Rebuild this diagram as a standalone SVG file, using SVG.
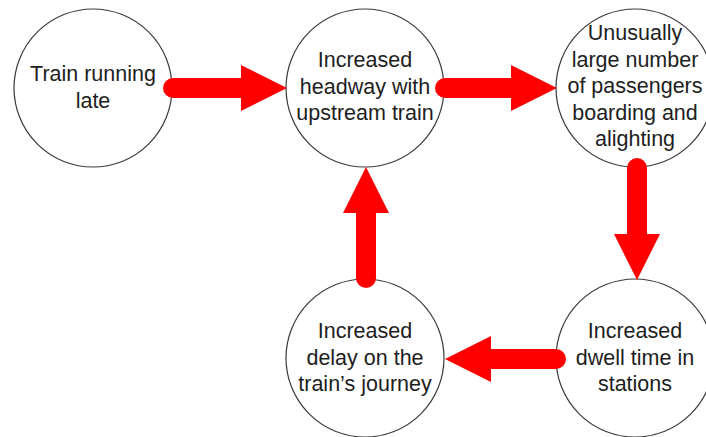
<svg xmlns="http://www.w3.org/2000/svg" width="706" height="437" viewBox="0 0 706 437">
  <style>
    .node circle { fill: #ffffff; stroke: #3a3a3a; stroke-width: 1.2; }
    .node text { font-family: "Liberation Sans", Arial, sans-serif; font-size: 21.5px; fill: #1e1e1e; text-anchor: middle; }
    .link { stroke: #ff0000; stroke-width: 20; stroke-linecap: round; fill: none; marker-end: url(#head); }
  </style>
  <defs>
    <marker id="head" viewBox="0 -23 46 46" markerWidth="46" markerHeight="46" refX="4" refY="0" markerUnits="userSpaceOnUse" orient="auto">
      <path d="M0,-23 L46,0 L0,23 Z" fill="#ff0000"/>
    </marker>
  </defs>
  <rect width="706" height="437" fill="#ffffff"/>

  <g id="n-late" class="node">
    <circle cx="93" cy="88" r="79"/>
    <text x="93" y="81">Train running</text>
    <text x="93" y="107.5">late</text>
  </g>

  <g id="n-headway" class="node">
    <circle cx="365" cy="88" r="79"/>
    <text x="365" y="67">Increased</text>
    <text x="365" y="93.5">headway with</text>
    <text x="365" y="120">upstream train</text>
  </g>

  <g id="n-passengers" class="node">
    <circle cx="635" cy="88" r="79"/>
    <text x="635" y="40">Unusually</text>
    <text x="635" y="66.5">large number</text>
    <text x="635" y="93">of passengers</text>
    <text x="635" y="119.5">boarding and</text>
    <text x="635" y="146">alighting</text>
  </g>

  <g id="n-dwell" class="node">
    <circle cx="635" cy="358" r="79"/>
    <text x="635" y="338">Increased</text>
    <text x="635" y="364.5">dwell time in</text>
    <text x="635" y="391">stations</text>
  </g>

  <g id="n-delay" class="node">
    <circle cx="365" cy="358" r="79"/>
    <text x="365" y="338">Increased</text>
    <text x="365" y="364.5">delay on the</text>
    <text x="365" y="391">train’s journey</text>
  </g>

  <g id="connectors">
    <line class="link" x1="173" y1="88" x2="245" y2="88"/>
    <line class="link" x1="445" y1="88" x2="515" y2="88"/>
    <line class="link" x1="637" y1="168" x2="637" y2="238"/>
    <line class="link" x1="556" y1="359" x2="487" y2="359"/>
    <line class="link" x1="366" y1="278" x2="366" y2="209"/>
  </g>
</svg>
